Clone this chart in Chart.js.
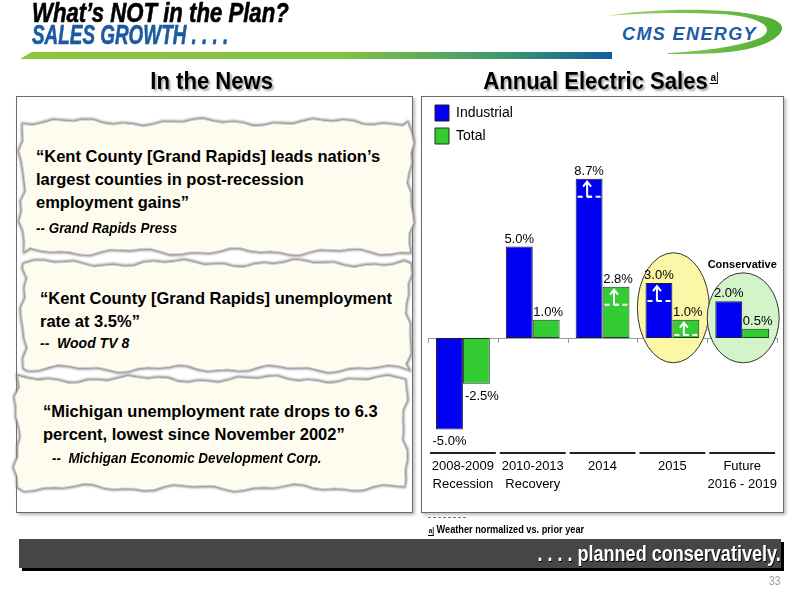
<!DOCTYPE html>
<html>
<head>
<meta charset="utf-8">
<script src="https://cdn.jsdelivr.net/npm/chart.js"></script>
<style>
body { margin:0; width:800px; height:600px; position:relative; overflow:hidden; background:#fff;
       font-family:"Liberation Sans", Arial, sans-serif; }
.abs { position:absolute; }
.sq { display:inline-block; white-space:nowrap; transform-origin:left top; }
.panel { border:1px solid #6a6a6a; box-shadow:2px 2px 3px #bbb; background:#fff; }
.quote { font-weight:bold; font-size:16.5px; line-height:23px; color:#000; white-space:nowrap; }
.src { font-weight:bold; font-style:italic; font-size:14px; line-height:18px; color:#000; white-space:nowrap; }
.head { font-weight:bold; font-size:24px; line-height:26px; text-align:center; color:#000; text-shadow:2px 2px 2px #aaa; }
.title { font-style:italic; font-weight:bold; font-size:27px; line-height:25px; -webkit-text-stroke:0.6px currentColor; }
.fn { display:inline-block; font-size:8px; line-height:8px; border-right:1px solid #000; border-bottom:1px solid #000; padding:0 1px; }
</style>
</head>
<body>
<!-- header -->
<div class="abs title" style="left:32px;top:1px;color:#000;"><span class="sq" style="transform:scaleX(0.82)">What’s NOT in the Plan?</span></div>
<div class="abs title" style="left:32px;top:23px;color:#1b5aa0;"><span class="sq" style="transform:scaleX(0.70)">SALES GROWTH . . . .</span></div>
<div class="abs" style="left:20px;top:52px;width:592px;height:7px;background:linear-gradient(to right,#8dc63f 0%,#80c244 55%,#3c9670 82%,#0f5c9c 100%);clip-path:polygon(2% 0,100% 0,100% 100%,0 100%);"></div>
<svg class="abs" style="left:0;top:0" width="800" height="70">
  <defs>
    <linearGradient id="sw" x1="0" x2="1" y1="0" y2="0">
      <stop offset="0" stop-color="#9fd36a"/><stop offset="1" stop-color="#4fae32"/>
    </linearGradient>
  </defs>
  <path d="M607,16 C650,8 740,6 775,20 C795,30 770,48 730,52 C710,54 690,54 668,54 L668,53 C700,51 735,48 760,38 C778,28 760,16 720,14 C680,12 640,13 607,16 Z" fill="url(#sw)"/>
  <text x="622" y="40" font-family="Liberation Sans, Arial, sans-serif" font-weight="bold" font-style="italic" font-size="18" letter-spacing="1.4" fill="#1e5aa6">CMS ENERGY</text>
</svg>

<div class="abs head" style="left:0;top:68px;width:424px;"><span class="sq" style="transform-origin:center top;transform:scaleX(0.92)">In the News</span></div>
<div class="abs head" style="left:418px;top:68px;width:366px;"><span class="sq" style="transform-origin:center top;transform:scaleX(0.92)">Annual Electric Sales<span class="fn" style="font-size:11px;line-height:11px;vertical-align:8px;margin-left:2px;text-shadow:none;">a</span></span></div>

<!-- left panel -->
<div class="abs panel" style="left:16px;top:96px;width:395px;height:415px;"></div>
<svg class="abs" id="cards" style="left:0;top:0" width="420" height="520">
  <defs><filter id="soft" x="-5%" y="-5%" width="110%" height="110%"><feGaussianBlur stdDeviation="1.3"/></filter></defs>
</svg>
<div class="abs quote" style="left:36px;top:145px;">“Kent County [Grand Rapids] leads nation’s<br>largest counties in post-recession<br>employment gains”</div>
<div class="abs src" style="left:36px;top:219px;"><span class="sq" style="transform:scaleX(0.96)">-- Grand Rapids Press</span></div>
<div class="abs quote" style="left:40px;top:287px;">“Kent County [Grand Rapids] unemployment<br>rate at 3.5%”</div>
<div class="abs src" style="left:40px;top:334px;">--&nbsp;&nbsp;Wood TV 8</div>
<div class="abs quote" style="left:43px;top:400px;">“Michigan unemployment rate drops to 6.3<br>percent, lowest since November 2002”</div>
<div class="abs src" style="left:52px;top:449px;"><span class="sq" style="transform:scaleX(0.96)">--&nbsp;&nbsp;Michigan Economic Development Corp.</span></div>

<!-- right panel -->
<div class="abs panel" style="left:421px;top:96px;width:361px;height:415px;"></div>
<canvas id="sales" class="abs" style="left:422px;top:98px;" width="360" height="412"></canvas>

<!-- footnote / footer -->
<div class="abs" style="left:428px;top:517px;width:38px;border-top:1px dashed #777;"></div>
<div class="abs" style="left:428px;top:523px;font-size:11.5px;font-weight:bold;line-height:13px;"><span class="sq" style="transform:scaleX(0.8)"><span class="fn">a</span> Weather normalized vs. prior year</span></div>
<div class="abs" style="left:19px;top:539px;width:762px;height:29px;background:#464646;box-shadow:3px 3px 0 #000;"></div>
<div class="abs" style="right:19px;top:539px;color:#fff;font-weight:bold;font-size:22px;line-height:29px;text-shadow:1px 1px 0 #000;"><span class="sq" style="transform-origin:right top;transform:scaleX(0.82)">. . . . planned conservatively.</span></div>
<div class="abs" style="left:769px;top:574px;font-size:12px;color:#9a9a9a;"><span class="sq" style="transform:scaleX(0.85)">33</span></div>

<script>
// data
const categories = [['2008-2009', 'Recession'], ['2010-2013', 'Recovery'], '2014', '2015', ['Future', '2016 - 2019']];
const seriesNames = ['Industrial', 'Total'];
const industrial = [-5.0, 5.0, 8.7, 3.0, 2.0];
const total = [-2.5, 1.0, 2.8, 1.0, 0.5];

// torn paper cards
function torn(x0, y0, x1, y1, k) {
    const pts = [];
    for (let x = x0; x < x1; x += 10) pts.push([x, y0 + 2.5 * Math.sin(x * 0.05 + k) + 1.5 * Math.sin(x * 0.17 + k * 2)]);
    for (let y = y0; y < y1; y += 10) pts.push([x1 + 2.5 * Math.sin(y * 0.09 + k) + 1.5 * Math.sin(y * 0.23 + k), y]);
    for (let x = x1; x > x0; x -= 10) pts.push([x, y1 + 2.5 * Math.sin(x * 0.06 + k * 3) + 1.5 * Math.sin(x * 0.15 + k)]);
    for (let y = y1; y > y0; y -= 10) pts.push([x0 + 2.5 * Math.sin(y * 0.1 + k * 2) + 1.5 * Math.sin(y * 0.27 + k), y]);
    return 'M' + pts.map(p => p[0].toFixed(1) + ',' + p[1].toFixed(1)).join('L') + 'Z';
}
const svg = document.getElementById('cards');
[[23, 123, 410, 251, 1], [24, 264, 408, 368, 2.3], [18, 380, 404, 487, 4.1]].forEach(c => {
    const d = torn(c[0], c[1], c[2], c[3], c[4]);
    const sh = document.createElementNS('http://www.w3.org/2000/svg', 'path');
    sh.setAttribute('d', d);
    sh.setAttribute('fill', 'none');
    sh.setAttribute('stroke', '#8a8a8a');
    sh.setAttribute('stroke-width', '4');
    sh.setAttribute('filter', 'url(#soft)');
    svg.appendChild(sh);
    const p = document.createElementNS('http://www.w3.org/2000/svg', 'path');
    p.setAttribute('d', d);
    p.setAttribute('fill', '#fdfcef');
    p.setAttribute('stroke', '#d0d0d0');
    p.setAttribute('stroke-width', '1');
    svg.appendChild(p);
});

// ellipses, zero line and category rules
const decorPlugin = {
    id: 'decor',
    beforeDatasetsDraw(chart) {
        const { ctx, chartArea, scales: { x, y } } = chart;
        const step = chartArea.width / categories.length;
        ctx.save();
        // zero line with boundary ticks
        const y0 = y.getPixelForValue(0);
        ctx.strokeStyle = '#9a9a9a';
        ctx.lineWidth = 1;
        ctx.beginPath();
        ctx.moveTo(chartArea.left, y0 + 0.5);
        ctx.lineTo(chartArea.right, y0 + 0.5);
        for (let i = 0; i <= categories.length; i++) {
            const bx = Math.round(chartArea.left + i * step) + 0.5;
            ctx.moveTo(bx, y0);
            ctx.lineTo(bx, y0 + 5);
        }
        ctx.stroke();
        // highlight rings
        const rings = [
            { i: 3, v: 1.65, rx: 36, ry: 55, fill: '#fbf7a6' },
            { i: 4, v: 1.1, rx: 36, ry: 45, fill: '#d3f3c9' }
        ];
        rings.forEach(r => {
            const cx = x.getPixelForValue(r.i) + 1;
            const cy = y.getPixelForValue(r.v);
            ctx.beginPath();
            ctx.ellipse(cx, cy, r.rx, r.ry, 0, 0, Math.PI * 2);
            ctx.fillStyle = r.fill;
            ctx.fill();
            ctx.strokeStyle = '#333';
            ctx.stroke();
        });
        const g = rings[1];
        ctx.fillStyle = '#000';
        ctx.font = 'bold 11px "Liberation Sans", Arial, sans-serif';
        ctx.textAlign = 'center';
        ctx.textBaseline = 'middle';
        ctx.fillText('Conservative', x.getPixelForValue(g.i), y.getPixelForValue(g.v) - g.ry - 8);
        // rules above the category labels
        ctx.strokeStyle = '#222';
        ctx.lineWidth = 2;
        for (let i = 0; i < categories.length; i++) {
            const cx = x.getPixelForValue(i);
            ctx.beginPath();
            ctx.moveTo(cx - step / 2 + 2, chartArea.bottom);
            ctx.lineTo(cx + step / 2 - 2, chartArea.bottom);
            ctx.stroke();
        }
        ctx.restore();
    }
};

// value labels and "grew beyond plan" arrows
const labelPlugin = {
    id: 'valueLabels',
    afterDatasetsDraw(chart) {
        const ctx = chart.ctx;
        ctx.save();
        const arrows = [[0, 2], [1, 2], [0, 3], [1, 3]];
        ctx.strokeStyle = '#fff';
        ctx.lineWidth = 2;
        arrows.forEach(a => {
            const el = chart.getDatasetMeta(a[0]).data[a[1]];
            const h = el.base - el.y;
            const len = Math.min(15, h - 6);
            const ax = el.x - 2;
            const top = el.y + 3;
            const bot = top + len;
            ctx.setLineDash([]);
            ctx.beginPath();
            ctx.moveTo(ax, bot);
            ctx.lineTo(ax, top + 1);
            ctx.moveTo(ax - 4, top + 5);
            ctx.lineTo(ax, top);
            ctx.lineTo(ax + 4, top + 5);
            ctx.moveTo(ax, bot);
            ctx.lineTo(ax + 5, bot);
            ctx.stroke();
            ctx.setLineDash([5, 4]);
            ctx.beginPath();
            ctx.moveTo(el.x - el.width / 2 + 2, bot);
            ctx.lineTo(el.x + el.width / 2 - 2, bot);
            ctx.stroke();
        });
        ctx.setLineDash([]);
        ctx.fillStyle = '#000';
        ctx.font = '13px "Liberation Sans", Arial, sans-serif';
        chart.data.datasets.forEach((ds, di) => {
            chart.getDatasetMeta(di).data.forEach((el, i) => {
                const v = ds.data[i];
                const txt = v.toFixed(1) + '%';
                if (v >= 0) {
                    ctx.textAlign = 'center';
                    ctx.textBaseline = 'bottom';
                    ctx.fillText(txt, el.x + (di === 1 ? 2 : 0), el.y - 1);
                } else {
                    ctx.textBaseline = 'middle';
                    if (di === 1) {
                        ctx.textAlign = 'left';
                        ctx.fillText(txt, el.x - el.width / 2 + 2, el.y + 13);
                    } else {
                        ctx.textAlign = 'center';
                        ctx.fillText(txt, el.x, el.y + 12);
                    }
                }
            });
        });
        ctx.restore();
    }
};

const canvasSales = document.getElementById('sales');
const salesChart = new Chart(canvasSales.getContext('2d'), {
    type: 'bar',
    data: {
        labels: categories,
        datasets: [
            { label: seriesNames[0], data: industrial, backgroundColor: '#0000f2', borderColor: '#1c1c3a', borderWidth: 1, borderSkipped: false },
            { label: seriesNames[1], data: total, backgroundColor: '#33cc33', borderColor: '#1c3a1c', borderWidth: 1, borderSkipped: false }
        ]
    },
    options: {
        responsive: false,
        animation: false,
        layout: { padding: { left: 6, right: 1, top: 0, bottom: 12 } },
        datasets: { bar: { categoryPercentage: 0.77, barPercentage: 1.0 } },
        scales: {
            x: {
                grid: { display: false, drawTicks: false },
                border: { display: false },
                ticks: { color: '#000', padding: 5, maxRotation: 0, minRotation: 0, autoSkip: false,
                         font: { size: 13, lineHeight: 1.35, family: '"Liberation Sans", Arial, sans-serif' } }
            },
            y: { display: false, min: -6.28, max: 13.11 }
        },
        plugins: {
            tooltip: { enabled: false },
            legend: {
                position: 'chartArea',
                align: 'start',
                labels: { boxWidth: 14, boxHeight: 16, padding: 7, color: '#000', font: { size: 14, family: '"Liberation Sans", Arial, sans-serif' } }
            }
        }
    },
    plugins: [decorPlugin, labelPlugin]
});
</script>
</body>
</html>
